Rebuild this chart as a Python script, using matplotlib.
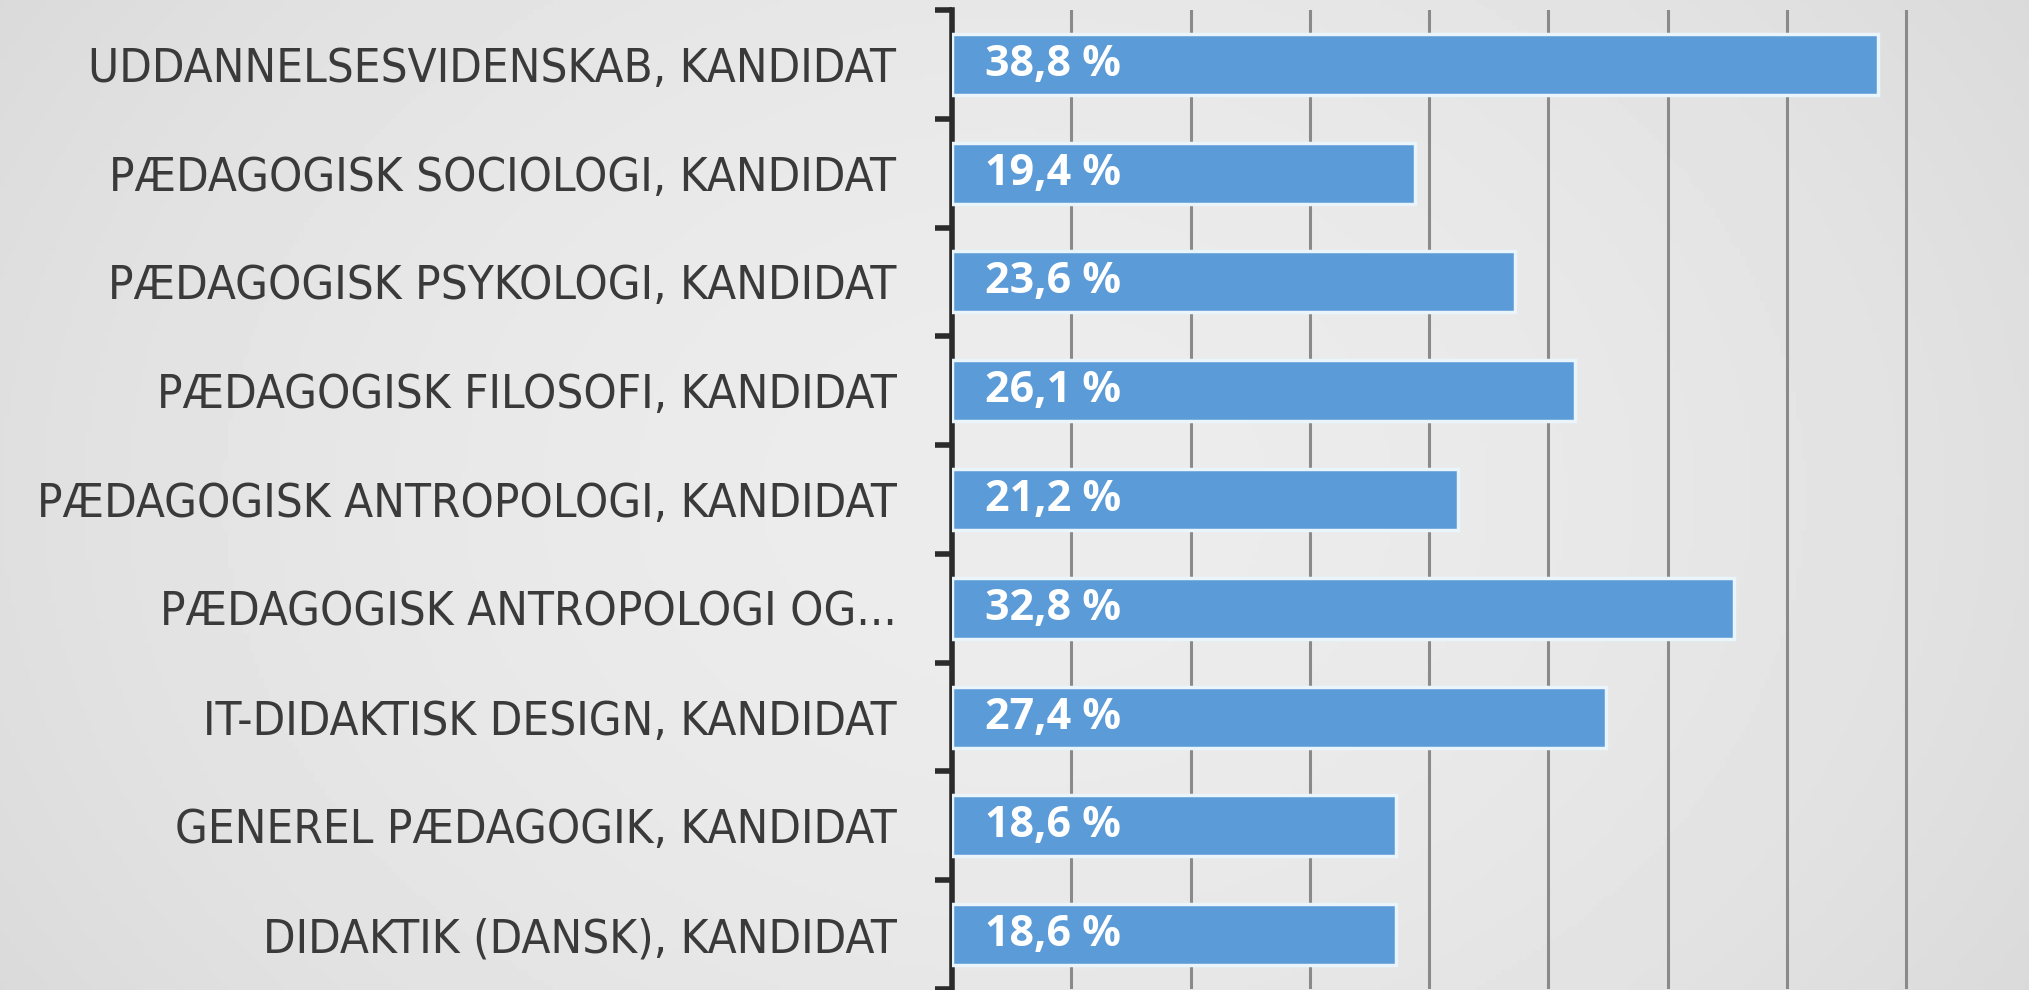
import numpy as np
import matplotlib.pyplot as plt

# data, bottom to top as drawn
programmes = [
    "DIDAKTIK (DANSK), KANDIDAT",
    "GENEREL PÆDAGOGIK, KANDIDAT",
    "IT-DIDAKTISK DESIGN, KANDIDAT",
    "PÆDAGOGISK ANTROPOLOGI OG...",
    "PÆDAGOGISK ANTROPOLOGI, KANDIDAT",
    "PÆDAGOGISK FILOSOFI, KANDIDAT",
    "PÆDAGOGISK PSYKOLOGI, KANDIDAT",
    "PÆDAGOGISK SOCIOLOGI, KANDIDAT",
    "UDDANNELSESVIDENSKAB, KANDIDAT",
]
shares = [18.6, 18.6, 27.4, 32.8, 21.2, 26.1, 23.6, 19.4, 38.8]
grid_ticks = [5, 10, 15, 20, 25, 30, 35, 40]

W, H = 2029, 990
fig = plt.figure(figsize=(W / 100, H / 100), dpi=100)

# soft gray background, a bit lighter in the middle
bg = fig.add_axes([0, 0, 1, 1], zorder=-5)
xx = np.linspace(-1, 1, 400)
yy = np.linspace(-1, 1, 200)
X, Y = np.meshgrid(xx, yy)
shade = 0.925 - 0.05 * (X ** 2) - 0.02 * (Y ** 2)
bg.imshow(shade, cmap="gray", vmin=0, vmax=1, aspect="auto", extent=[0, 1, 0, 1])
bg.axis("off")

ax = fig.add_axes([952 / W, 1 / H, 1 - 952 / W, (H - 11) / H])
ax.patch.set_alpha(0)

y = np.arange(len(programmes))
ax.barh(y, shares, height=0.56, color="#5b9bd8", edgecolor="#eaf4fb",
        linewidth=2.5, zorder=3)

for yi, v in zip(y, shares):
    ax.text(1.4, yi, f"{v:.1f} %".replace(".", ","), color="white",
            fontsize=31, fontweight="bold", va="center", ha="left",
            family=["Open Sans", "DejaVu Sans"], zorder=4)

ax.set_xlim(0, 45.15)
ax.set_ylim(-0.5, len(programmes) - 0.5)
ax.set_xticks(grid_ticks)
ax.xaxis.grid(True, color="#8a8a8a", linewidth=2.2, zorder=0)
ax.tick_params(axis="x", length=0, labelbottom=False)

ax.set_yticks(y)
ax.set_yticklabels(programmes, fontsize=34, color="#3a3a3a",
                   family=["DejaVu Sans"], fontstretch="condensed")
ax.set_yticks(np.arange(-0.5, len(programmes)), minor=True)
ax.tick_params(axis="y", which="major", length=0, pad=40)
ax.tick_params(axis="y", which="minor", length=12, width=4, color="#2b2b2b")

for s in ["top", "right", "bottom"]:
    ax.spines[s].set_visible(False)
ax.spines["left"].set_color("#2b2b2b")
ax.spines["left"].set_linewidth(4)

fig.savefig("out.png", dpi=100)
